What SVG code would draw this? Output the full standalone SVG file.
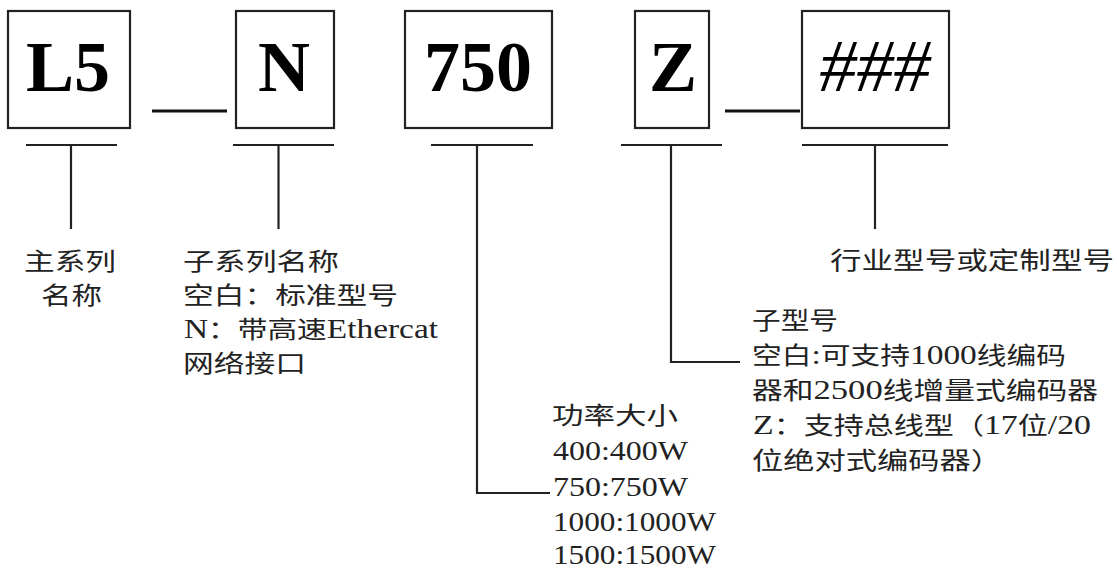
<svg xmlns="http://www.w3.org/2000/svg" width="1117" height="571" viewBox="0 0 1117 571">
<style>
.box{fill:#fff;stroke:#222;stroke-width:2.2}
.big{font-family:"Liberation Serif","Times New Roman",serif;font-size:72px;font-weight:bold;fill:#000;text-anchor:middle}
.hash{font-family:"Liberation Serif","Times New Roman",serif;font-size:74px;font-style:italic;font-weight:normal;fill:#000;text-anchor:middle}
.ln{fill:none;stroke:#222;stroke-width:2.2}
.dash{fill:none;stroke:#111;stroke-width:3.2}
.lb{font-family:"Liberation Serif","Noto Sans CJK SC",serif;font-size:24px;fill:#222}
.la{font-size:27px}
</style>
<rect width="1117" height="571" fill="#fff"/>
<g id="node-L5">
<rect class="box" x="8" y="11" width="122" height="117"/>
<text class="big" x="68" y="91">L5</text>
</g>
<g id="node-N">
<rect class="box" x="236" y="11" width="98" height="117"/>
<text class="big" x="284" y="91">N</text>
</g>
<g id="node-750">
<rect class="box" x="405" y="11" width="147" height="117"/>
<text class="big" x="478" y="91">750</text>
</g>
<g id="node-Z">
<rect class="box" x="635" y="11" width="74" height="117"/>
<text class="big" x="673" y="91">Z</text>
</g>
<g id="node-hash">
<rect class="box" x="802" y="11" width="147" height="117"/>
<text class="hash" x="875" y="91">###</text>
</g>
<g id="connectors">
<line class="dash" x1="152" y1="111" x2="227" y2="111"/>
<line class="dash" x1="725" y1="111" x2="800" y2="111"/>
<line class="ln" x1="26" y1="145" x2="117" y2="145"/>
<line class="ln" x1="71" y1="145" x2="71" y2="229"/>
<line class="ln" x1="233" y1="145" x2="334" y2="145"/>
<line class="ln" x1="278.5" y1="145" x2="278.5" y2="229"/>
<line class="ln" x1="431" y1="145" x2="533" y2="145"/>
<polyline class="ln" points="477,145 477,493 550,493"/>
<line class="ln" x1="621" y1="145" x2="722" y2="145"/>
<polyline class="ln" points="671,145 671,362 740,362"/>
<line class="ln" x1="802" y1="145" x2="948" y2="145"/>
<line class="ln" x1="875" y1="145" x2="875" y2="229"/>
</g>
<g id="label-L5">
<text class="lb" x="24" y="270" textLength="92" lengthAdjust="spacingAndGlyphs">主系列</text>
<text class="lb" x="41" y="304" textLength="61" lengthAdjust="spacingAndGlyphs">名称</text>
</g>
<g id="label-N">
<text class="lb" x="183" y="270" textLength="156" lengthAdjust="spacingAndGlyphs">子系列名称</text>
<text class="lb" x="183" y="304" textLength="215" lengthAdjust="spacingAndGlyphs">空白：标准型号</text>
<text class="lb" x="184" y="338" textLength="254" lengthAdjust="spacingAndGlyphs"><tspan class="la">N</tspan>：带高速<tspan class="la">Ethercat</tspan></text>
<text class="lb" x="183" y="372" textLength="123" lengthAdjust="spacingAndGlyphs">网络接口</text>
</g>
<g id="label-750">
<text class="lb" x="552" y="424" textLength="126" lengthAdjust="spacingAndGlyphs">功率大小</text>
<text class="lb la" x="553" y="460" textLength="135" lengthAdjust="spacingAndGlyphs">400:400W</text>
<text class="lb la" x="553" y="496" textLength="135" lengthAdjust="spacingAndGlyphs">750:750W</text>
<text class="lb la" x="553" y="531" textLength="163" lengthAdjust="spacingAndGlyphs">1000:1000W</text>
<text class="lb la" x="553" y="564" textLength="163" lengthAdjust="spacingAndGlyphs">1500:1500W</text>
</g>
<g id="label-Z">
<text class="lb" x="752" y="329" textLength="86" lengthAdjust="spacingAndGlyphs">子型号</text>
<text class="lb" x="752" y="364" textLength="314" lengthAdjust="spacingAndGlyphs">空白<tspan class="la">:</tspan>可支持<tspan class="la">1000</tspan>线编码</text>
<text class="lb" x="752" y="399" textLength="346" lengthAdjust="spacingAndGlyphs">器和<tspan class="la">2500</tspan>线增量式编码器</text>
<text class="lb" x="753" y="434" textLength="338" lengthAdjust="spacingAndGlyphs"><tspan class="la">Z</tspan>：支持总线型（<tspan class="la">17</tspan>位<tspan class="la">/20</tspan></text>
<text class="lb" x="752" y="469" textLength="250" lengthAdjust="spacingAndGlyphs">位绝对式编码器）</text>
</g>
<g id="label-hash">
<text class="lb" x="830" y="269" textLength="284" lengthAdjust="spacingAndGlyphs">行业型号或定制型号</text>
</g>
</svg>
